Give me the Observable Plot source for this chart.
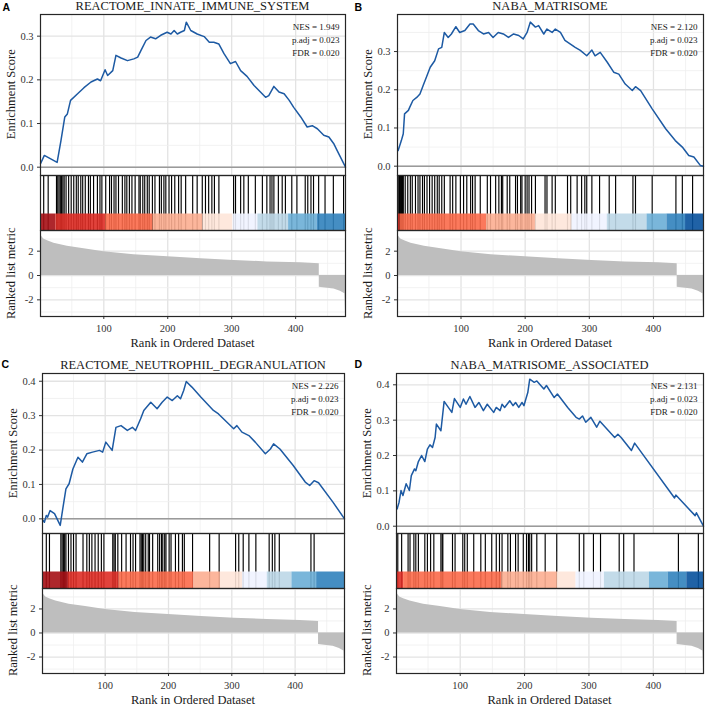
<!DOCTYPE html>
<html><head><meta charset="utf-8">
<script src="https://cdn.jsdelivr.net/npm/d3@7"></script>
<script src="https://cdn.jsdelivr.net/npm/@observablehq/plot@0.6"></script>
<style>
html,body{margin:0;padding:0;background:#fff;}
#root{position:relative;width:706px;height:708px;overflow:hidden;background:#fff;}
.t{position:absolute;white-space:nowrap;font-family:'Liberation Serif','Times New Roman',serif;color:#1a1a1a;}
.lab{position:absolute;white-space:nowrap;font-family:'Liberation Sans',Arial,sans-serif;font-weight:bold;color:#000;}
</style></head><body><div id="root"></div>
<script>
const N = 478;

// ---------- panel titles / stats ----------
const titles = ["REACTOME_INNATE_IMMUNE_SYSTEM", "NABA_MATRISOME", "REACTOME_NEUTROPHIL_DEGRANULATION", "NABA_MATRISOME_ASSOCIATED"];
const letters = ["A", "B", "C", "D"];
const statsA = ["NES = 1.949", "p.adj = 0.023", "FDR = 0.020"];
const statsB = ["NES = 2.120", "p.adj = 0.023", "FDR = 0.020"];
const statsC = ["NES = 2.226", "p.adj = 0.023", "FDR = 0.020"];
const statsD = ["NES = 2.131", "p.adj = 0.023", "FDR = 0.020"];

// ---------- running enrichment score ----------
const esA_rank = [1,7,12,17,22,27,33,39,43,48,59,69,80,90,95,102,106,114,119,127,137,147,153,158,166,173,181,189,199,205,210,215,220,226,229,236,246,257,265,272,280,288,298,306,314,324,335,345,353,358,366,374,382,390,397,408,418,426,434,444,452,460,465,478];
const esA_val = [0.008,0.027,0.023,0.019,0.015,0.011,0.061,0.115,0.122,0.153,0.168,0.182,0.195,0.202,0.198,0.223,0.210,0.221,0.256,0.250,0.244,0.248,0.252,0.267,0.290,0.298,0.294,0.302,0.309,0.305,0.313,0.305,0.309,0.313,0.332,0.313,0.305,0.299,0.286,0.286,0.282,0.260,0.237,0.242,0.221,0.208,0.187,0.172,0.160,0.164,0.185,0.172,0.168,0.153,0.137,0.115,0.092,0.095,0.088,0.073,0.069,0.053,0.038,0.0];

const esB_rank = [2,7,10,12,18,20,25,31,36,41,46,52,59,65,70,74,80,85,92,98,106,114,119,127,135,143,150,158,166,174,182,190,197,203,208,216,221,229,234,242,247,255,262,270,278,286,296,304,309,317,328,338,346,356,367,372,380,398,419,434,445,455,463,473,478];
const esB_val = [0.041,0.067,0.085,0.137,0.146,0.154,0.172,0.180,0.189,0.211,0.233,0.259,0.276,0.307,0.311,0.350,0.337,0.346,0.365,0.350,0.355,0.372,0.372,0.355,0.346,0.350,0.337,0.350,0.346,0.337,0.346,0.342,0.333,0.350,0.377,0.364,0.368,0.346,0.359,0.350,0.359,0.350,0.329,0.320,0.311,0.303,0.289,0.304,0.289,0.298,0.272,0.246,0.241,0.215,0.198,0.208,0.198,0.150,0.098,0.067,0.050,0.028,0.024,0.002,0.0];

const esC_rank = [2,4,7,9,13,20,29,33,38,43,49,57,64,71,80,91,96,101,111,117,125,135,143,148,156,161,172,182,190,198,206,214,219,224,228,237,251,264,271,279,303,308,316,327,337,353,361,366,376,397,416,423,430,437,460,478];
const esC_val = [-0.005,-0.010,0.010,0.005,0.024,0.015,-0.019,0.029,0.087,0.102,0.145,0.179,0.165,0.189,0.194,0.199,0.194,0.223,0.199,0.266,0.271,0.257,0.266,0.257,0.291,0.315,0.339,0.320,0.339,0.354,0.344,0.358,0.349,0.373,0.399,0.383,0.354,0.329,0.315,0.305,0.262,0.271,0.252,0.242,0.223,0.189,0.203,0.218,0.203,0.155,0.107,0.097,0.111,0.105,0.048,0.0];

const esD_rank = [2,5,8,11,16,21,24,29,31,35,40,45,49,53,57,61,63,70,75,87,91,100,105,109,115,123,129,136,142,152,156,162,165,169,177,182,186,191,196,199,202,205,208,215,219,230,234,246,251,267,280,285,290,295,303,312,317,340,345,350,366,371,433,435,465,467,478];
const esD_val = [0.049,0.068,0.101,0.087,0.120,0.101,0.143,0.162,0.157,0.183,0.200,0.183,0.218,0.230,0.223,0.251,0.289,0.270,0.353,0.322,0.361,0.336,0.360,0.345,0.367,0.336,0.350,0.327,0.345,0.322,0.336,0.327,0.345,0.336,0.355,0.341,0.350,0.336,0.350,0.341,0.360,0.378,0.416,0.407,0.411,0.388,0.398,0.364,0.374,0.336,0.308,0.303,0.312,0.294,0.308,0.280,0.297,0.251,0.260,0.251,0.214,0.235,0.080,0.088,0.030,0.038,0.0];

// ---------- gene-set hit positions (ranks) ----------
const hitsA = [6,13,26,28,30,32,34,36,38,41,45,49,53,57,60,64,67,71,76,79,84,90,94,97,103,109,112,116,119,123,129,133,136,140,144,149,155,157,161,164,168,171,176,180,187,190,194,197,202,206,211,217,221,228,239,246,254,259,264,269,273,280,303,306,314,319,326,337,348,355,360,363,366,373,379,384,394,402,415,419,424,428,436,446,459,475];
const hitsB = [3,4,5,6,7,8,9,10,13,17,21,24,29,33,36,40,43,47,51,55,59,63,66,70,74,83,87,92,99,104,109,115,118,122,130,141,146,154,159,163,165,172,176,185,188,193,195,200,203,206,210,216,231,234,242,247,266,271,281,288,293,296,304,316,331,341,368,372,398,435,445,461];
const hitsC = [7,12,30,32,34,36,38,42,46,50,54,65,71,75,79,84,89,94,98,112,114,116,120,126,133,140,144,148,155,157,159,161,164,168,170,175,183,186,189,191,194,196,201,204,211,216,222,225,238,265,280,306,311,318,327,338,359,364,368,375,425,430];
const hitsD = [3,9,19,22,28,31,35,45,49,54,59,70,72,73,88,92,104,107,111,121,132,139,149,156,161,165,174,178,186,190,198,203,206,208,211,219,232,250,285,292,307,318,347,354,370,439,470];

// ---------- colour bar segments ----------
const barA_breaks = [1,25,103,177,255,302,341,389,434,478];
const barA_colors = ["#A50F15","#DE2D26","#FB6A4A","#FCAE91","#FEE5D9","#EFF3FF","#BDD7E7","#6BAED6","#3182BD"];
const barB_breaks = [1,5,140,216,273,328,390,421,450,478];
const barB_colors = ["#DE2D26","#FB6A4A","#FCAE91","#FEE5D9","#EFF3FF","#BDD7E7","#6BAED6","#3182BD","#08519C"];
const barC_breaks = [1,42,122,240,282,317,356,395,434,478];
const barC_colors = ["#A50F15","#DE2D26","#FB6A4A","#FCAE91","#FEE5D9","#EFF3FF","#BDD7E7","#6BAED6","#3182BD"];
const barD_breaks = [1,12,165,251,280,324,394,423,452,478];
const barD_colors = ["#DE2D26","#FB6A4A","#FCAE91","#FEE5D9","#EFF3FF","#BDD7E7","#6BAED6","#3182BD","#08519C"];

// ---------- ranked list metric ----------
const metricRank = [1,3,6,12,22,43,69,100,147,200,252,304,356,408,437,437,450,460,470,477,478];
const metricVal = [3.4,3.2,3.0,2.85,2.65,2.4,2.2,1.95,1.7,1.54,1.37,1.23,1.12,1.04,0.96,-0.96,-1.05,-1.1,-1.3,-1.5,-3.05];

// ---------- ticks ----------
const xMajor = [100,200,300,400];
const xMinor = [50,150,250,350,450];
const esMajorA = [0,0.1,0.2,0.3];
const esMajorC = [0,0.1,0.2,0.3,0.4];
const esMinorAll = [-0.05,0.05,0.15,0.25,0.35];
const metMajor = [-2,0,2];
const metMinor = [-3,-1,1,3];

// ---------- layout ----------
const panels = [
  {letter:letters[0], title:titles[0], stats:statsA, L:40, R:345, esT:14, esB:175, hitB:230, metB:316, esDomain:[-0.019,0.3496], esTicks:esMajorA, rank:esA_rank, val:esA_val, hits:hitsA, breaks:barA_breaks, colors:barA_colors, letterX:2.5, titleBase:10.8, letterBase:11},
  {letter:letters[1], title:titles[1], stats:statsB, L:397, R:703, esT:14, esB:175, hitB:230, metB:316, esDomain:[-0.0244,0.397], esTicks:esMajorA, rank:esB_rank, val:esB_val, hits:hitsB, breaks:barB_breaks, colors:barB_colors, letterX:354.5, titleBase:10.8, letterBase:11},
  {letter:letters[2], title:titles[2], stats:statsC, L:42, R:344, esT:373, esB:533, hitB:588, metB:673, esDomain:[-0.0426,0.4225], esTicks:esMajorC, rank:esC_rank, val:esC_val, hits:hitsC, breaks:barC_breaks, colors:barC_colors, letterX:1.5, titleBase:369, letterBase:368},
  {letter:letters[3], title:titles[3], stats:statsD, L:396, R:703, esT:373, esB:533, hitB:588, metB:673, esDomain:[-0.0206,0.432], esTicks:esMajorC, rank:esD_rank, val:esD_val, hits:hitsD, breaks:barD_breaks, colors:barD_colors, letterX:354.5, titleBase:369, letterBase:368}
];
const metricDomain = [-3.37, 3.70];

const root = document.getElementById("root");
const baseStyle = {background:"transparent", fontFamily:"'Liberation Serif','Times New Roman',serif", fontSize:"10.5px", color:"#333", overflow:"visible"};
const ML = 40, MR = 4, MT = 3, MB = 3;
const gridMajor = {stroke:"#e3e3e3", strokeWidth:1.3};
const gridMinor = {stroke:"#efefef", strokeWidth:0.8};
const frameStyle = {stroke:"#262626", strokeWidth:1.2};
const inDom = (arr, dom) => arr.filter(v => v > dom[0] && v < dom[1]);

function place(svg, left, top) {
  svg.style.position = "absolute";
  svg.style.left = left + "px";
  svg.style.top = top + "px";
  root.appendChild(svg);
}
function addDiv(cls, txt, css) {
  const d = document.createElement("div");
  d.className = cls;
  d.textContent = txt;
  Object.assign(d.style, css);
  root.appendChild(d);
}

const metricData = metricRank.map((r, i) => ({rank: r, v: metricVal[i]}));

for (const p of panels) {
  const w = p.R - p.L + ML + MR;
  const esData = p.rank.map((r, i) => ({rank: r, es: p.val[i]}));
  const bars = p.colors.map((c, i) => ({x1: p.breaks[i], x2: p.breaks[i + 1], c}));

  // running enrichment score
  place(Plot.plot({
    width: w, height: p.esB - p.esT + MT + MB,
    marginLeft: ML, marginRight: MR, marginTop: MT, marginBottom: MB,
    x: {domain: [1, N], axis: null},
    y: {domain: p.esDomain},
    style: baseStyle,
    marks: [
      Plot.ruleX(xMinor, gridMinor),
      Plot.ruleX(xMajor, gridMajor),
      Plot.ruleY(inDom(esMinorAll, p.esDomain), gridMinor),
      Plot.ruleY(p.esTicks, gridMajor),
      Plot.ruleY([0], {stroke: "#9a9a9a", strokeWidth: 1.5}),
      Plot.line(esData, {x: "rank", y: "es", stroke: "#1d5aa3", strokeWidth: 1.5}),
      Plot.text([p.stats.join("\n")], {text: d => d, frameAnchor: "top-right", dx: -6, dy: 6, lineAnchor: "top", textAnchor: "end", fontSize: 9, lineHeight: 1.45, fill: "#1a1a1a"}),
      Plot.axisY({ticks: p.esTicks, tickFormat: d3.format(".1f"), tickSize: 3, tickPadding: 4, label: null}),
      Plot.frame(frameStyle)
    ]
  }), p.L - ML, p.esT - MT);

  // hits + colour bar
  place(Plot.plot({
    width: w, height: p.hitB - p.esB + MT + MB,
    marginLeft: ML, marginRight: MR, marginTop: MT, marginBottom: MB,
    x: {domain: [1, N], axis: null},
    y: {domain: [0, 1], axis: null},
    color: {type: "identity"},
    style: baseStyle,
    marks: [
      Plot.ruleX(p.hits, {x: d => d, y1: 0, y2: 1, stroke: "#000", strokeWidth: 1.15}),
      Plot.rect(bars, {x1: "x1", x2: "x2", y1: 0, y2: 0.3, fill: "c", fillOpacity: 0.9}),
      Plot.frame(frameStyle)
    ]
  }), p.L - ML, p.esB - MT);

  // ranked list metric
  place(Plot.plot({
    width: w, height: p.metB - p.hitB + MT + 24,
    marginLeft: ML, marginRight: MR, marginTop: MT, marginBottom: 24,
    x: {domain: [1, N]},
    y: {domain: metricDomain},
    style: baseStyle,
    marks: [
      Plot.ruleX(xMinor, gridMinor),
      Plot.ruleX(xMajor, gridMajor),
      Plot.ruleY(metMinor, gridMinor),
      Plot.ruleY(metMajor, gridMajor),
      Plot.areaY(metricData, {x: "rank", y: "v", fill: "#bebebe"}),
      Plot.axisY({ticks: metMajor, tickFormat: d => String(d), tickSize: 3, tickPadding: 4, label: null}),
      Plot.axisX({ticks: xMajor, tickSize: 3, tickPadding: 5, label: null}),
      Plot.frame(frameStyle)
    ]
  }), p.L - ML, p.hitB - MT);

  // texts
  const cx = (p.L + p.R) / 2;
  const fsT = 12.5;
  addDiv("t", p.title, {left: (cx - 200) + "px", width: "400px", textAlign: "center", fontSize: fsT + "px", lineHeight: fsT + "px", top: (p.titleBase - 0.8375 * fsT) + "px"});
  addDiv("lab", p.letter, {left: p.letterX + "px", fontSize: "10.5px", lineHeight: "10.5px", top: (p.letterBase - 0.846 * 10.5) + "px"});
  const fsA = 12.5;
  const rotX = p.L - 25 - 0.3375 * fsA;
  const esCy = (p.esT + p.esB) / 2, metCy = (p.hitB + p.metB) / 2;
  addDiv("t", "Enrichment Score", {left: (rotX - 100) + "px", top: (esCy - fsA / 2) + "px", width: "200px", height: fsA + "px", lineHeight: fsA + "px", fontSize: fsA + "px", textAlign: "center", transform: "rotate(-90deg)"});
  addDiv("t", "Ranked list metric", {left: (rotX - 100) + "px", top: (metCy - fsA / 2) + "px", width: "200px", height: fsA + "px", lineHeight: fsA + "px", fontSize: fsA + "px", textAlign: "center", transform: "rotate(-90deg)"});
  addDiv("t", "Rank in Ordered Dataset", {left: (cx - 150) + "px", width: "300px", textAlign: "center", fontSize: fsA + "px", lineHeight: fsA + "px", top: (p.metB + 31 - 0.8375 * fsA) + "px"});
}
</script></body></html>
